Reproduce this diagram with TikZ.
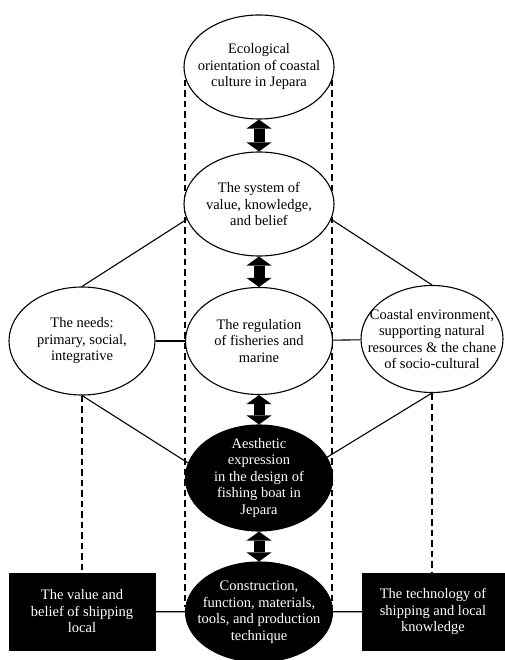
\documentclass[tikz,border=0pt]{standalone}
\usepackage{fontspec}
\setmainfont{Liberation Serif}
\usepackage{tikz}
\usetikzlibrary{shapes.geometric}
\usetikzlibrary{arrows.meta}
\newcommand{\txt}{\fontsize{14.5}{16.5}\selectfont}
\tikzset{
  bubble/.style={ellipse, draw, line width=1.1pt, fill=white, inner xsep=-25pt, inner ysep=-15pt, align=center, font=\txt},
  darkbubble/.style={bubble, fill=black, text=white},
  darkbox/.style={rectangle, draw, fill=black, text=white, minimum height=77pt, inner sep=0pt, align=center, font=\txt},
  bigarrow/.style={line width=11pt, {Triangle[length=9pt,width=25pt,line width=0pt]}-{Triangle[length=9pt,width=25pt,line width=0pt]}},
  dashline/.style={line width=1.2pt, dash pattern=on 6.5pt off 4pt}
}

\begin{document}
\begin{tikzpicture}[x=1pt,y=-1pt]
  \useasboundingbox (0,0) rectangle (505,660);
  % dashed frame behind the middle column
  \coordinate (dtl) at (185,80);
  \coordinate (dbl) at (185,607);
  \coordinate (dtr) at (332,80);
  \coordinate (dbr) at (332,607);
  \draw[dashline] (dtl) -- (dbl) (dtr) -- (dbr);

  \node[bubble, minimum width=150pt, minimum height=104pt] (eco) at (259,67) {Ecological\\orientation of coastal\\culture in Jepara};
  \node[bubble, minimum width=150pt, minimum height=104pt] (sys) at (259,204) {The system of\\value, knowledge,\\and belief};
  \node[bubble, minimum width=147pt, minimum height=107pt] (reg) at (259,341) {The regulation\\of fisheries and\\marine};
  \node[bubble, minimum width=146pt, minimum height=108pt] (needs) at (82,341) {The needs:\\primary, social,\\integrative};
  \node[bubble, minimum width=142pt, minimum height=107pt] (coast) at (432,339) {Coastal environment,\\supporting natural\\resources \& the chane\\of socio-cultural};
  \node[darkbubble, minimum width=147pt, minimum height=106pt] (aes) at (259,478) {Aesthetic\\expression\\in the design of\\fishing boat in\\Jepara};
  \node[darkbubble, minimum width=147pt, minimum height=100pt] (cons) at (259,612) {Construction,\\function, materials,\\tools, and production\\technique};
  \node[darkbox, minimum width=146pt] (lbox) at (82,611.5) {The value and\\belief of shipping\\local};
  \node[darkbox, minimum width=142pt] (rbox) at (433,611.5) {The technology of\\shipping and local\\knowledge};

  \path[line width=1.1pt]
    (sys.192) edge (needs.north)
    (sys.-12) edge (coast.north)
    (needs.south) edge (aes.168)
    (coast.south) edge (aes.17)
    (needs) edge (reg)
    (reg) edge (coast)
    (lbox) edge (cons)
    (cons) edge (rbox);
  \path[dashline]
    (needs.south) edge (lbox.north)
    (coast.south) edge (coast.south |- rbox.north);

  \path[bigarrow]
    (eco) edge (sys)
    (sys) edge (reg)
    (reg) edge (aes)
    (aes) edge (cons);
\end{tikzpicture}
\end{document}
